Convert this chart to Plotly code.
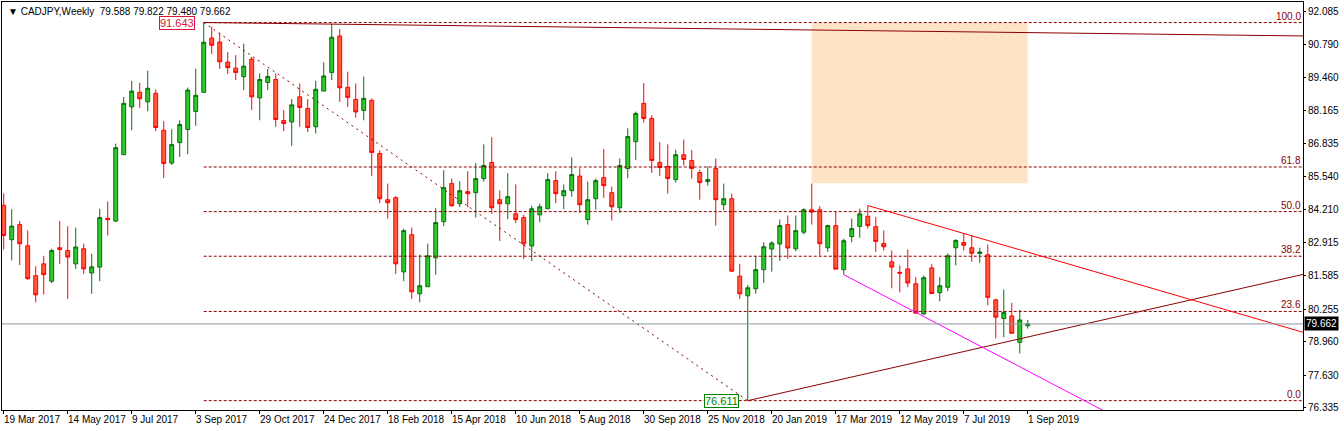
import pandas as pd
import plotly.graph_objects as go

# weekly candles, CADJPY, 19 Mar 2017 .. 1 Sep 2019
opens = [84.38, 83.01, 83.61, 82.77, 81.58, 82.05, 81.36, 82.69, 82.58, 82.05,
         82.65, 81.69, 81.92, 83.86, 83.75, 86.39, 88.29, 88.87, 88.49, 88.83,
         87.36, 86.06, 86.87, 87.39, 88.11, 88.87, 91.03, 90.87, 90.07, 89.83,
         89.49, 90.19, 88.65, 89.26, 89.38, 87.75, 87.69, 88.69, 88.23, 87.50,
         88.92, 89.66, 91.11, 89.07, 88.59, 88.15, 88.55, 86.44, 84.60, 84.68,
         81.73, 83.21, 80.86, 81.14, 82.29, 83.73, 85.24, 84.44, 84.92, 84.88,
         85.44, 86.08, 84.60, 84.44, 84.04, 83.89, 82.76, 84.00, 84.24, 85.36,
         84.76, 84.96, 85.54, 83.81, 84.64, 85.48, 84.88, 84.28, 85.84, 86.91,
         88.43, 87.83, 86.08, 85.92, 85.40, 86.39, 86.16, 85.68, 85.32, 85.84,
         84.40, 84.64, 81.56, 80.78, 81.06, 81.82, 82.64, 82.84, 83.61, 82.65,
         83.31, 84.20, 84.20, 82.69, 83.57, 81.82, 83.13, 83.54, 83.94, 83.53,
         82.86, 82.13, 81.71, 81.85, 81.26, 80.06, 81.89, 80.90, 81.12, 82.69,
         82.90, 82.69, 82.46, 82.41, 80.62, 79.88, 79.98, 78.93, 79.588]
highs = [84.85, 84.22, 83.75, 83.38, 81.95, 82.37, 82.65, 83.75, 83.54, 83.49,
         82.85, 82.45, 84.24, 84.53, 86.83, 88.69, 89.32, 89.25, 89.73, 88.98,
         87.72, 87.40, 87.76, 89.06, 89.81, 91.643, 91.48, 91.24, 90.47, 90.35,
         90.80, 90.28, 89.62, 89.80, 89.62, 88.16, 88.60, 89.22, 88.60, 89.33,
         90.06, 91.59, 91.38, 89.69, 89.22, 89.50, 88.63, 86.57, 85.24, 84.74,
         83.45, 83.49, 82.42, 82.85, 84.26, 85.77, 85.44, 85.33, 85.73, 86.05,
         86.80, 87.08, 84.97, 85.65, 85.21, 84.00, 84.36, 84.45, 85.65, 85.73,
         85.20, 86.28, 85.85, 85.32, 85.44, 86.61, 85.12, 86.24, 87.44, 88.10,
         89.24, 87.96, 86.89, 86.80, 86.59, 86.99, 86.57, 85.80, 85.92, 86.24,
         85.24, 84.84, 82.05, 81.21, 82.37, 82.91, 82.95, 83.81, 83.97, 83.97,
         84.26, 85.24, 84.34, 83.61, 84.11, 83.05, 83.85, 84.24, 84.37, 83.91,
         83.38, 82.58, 81.99, 82.62, 81.52, 81.59, 82.05, 81.52, 82.47, 83.03,
         83.25, 83.17, 82.69, 82.82, 80.66, 81.03, 80.50, 80.22, 79.822]
lows = [82.62, 82.19, 82.00, 81.42, 80.52, 80.83, 81.28, 82.05, 80.66, 81.85,
        81.65, 80.86, 81.36, 83.18, 83.71, 86.39, 87.36, 88.25, 88.12, 87.33,
        85.46, 85.98, 86.30, 86.41, 87.54, 88.87, 90.39, 89.80, 89.60, 89.36,
        88.96, 88.16, 87.76, 88.96, 87.50, 87.33, 86.74, 87.50, 87.29, 87.23,
        88.92, 89.36, 88.49, 88.29, 87.86, 87.76, 85.55, 84.47, 83.85, 81.65,
        81.36, 80.66, 80.52, 81.14, 81.62, 83.55, 84.32, 84.31, 84.30, 83.89,
        85.32, 84.04, 82.96, 83.83, 83.67, 82.25, 82.16, 83.71, 84.24, 84.47,
        84.23, 84.72, 84.08, 83.61, 84.20, 84.68, 83.77, 84.08, 85.46, 86.18,
        87.67, 85.67, 85.55, 84.84, 85.28, 85.96, 85.44, 84.60, 85.16, 83.57,
        84.18, 81.72, 80.66, 76.611, 80.86, 81.30, 81.74, 82.17, 82.25, 82.55,
        83.22, 83.61, 82.38, 82.53, 81.84, 81.62, 82.91, 83.09, 83.45, 82.52,
        82.58, 81.08, 80.92, 81.12, 80.09, 80.02, 80.87, 80.56, 80.96, 81.99,
        82.58, 82.13, 82.09, 80.40, 79.09, 79.13, 79.29, 78.49, 79.480]
closes = [83.18, 83.55, 82.85, 81.46, 80.82, 81.62, 82.58, 82.62, 82.32, 82.72,
          81.85, 81.93, 83.89, 83.81, 86.67, 88.43, 88.92, 88.61, 89.03, 87.47,
          86.04, 86.79, 87.59, 88.96, 88.75, 90.86, 90.74, 90.08, 89.85, 89.66,
          89.91, 88.69, 89.38, 89.50, 87.79, 87.63, 88.37, 88.27, 87.47, 88.99,
          89.52, 91.06, 89.05, 88.67, 88.09, 88.63, 86.48, 84.64, 84.48, 82.05,
          83.37, 80.94, 81.18, 82.37, 83.69, 85.08, 84.36, 84.96, 84.84, 85.44,
          85.96, 84.28, 84.44, 84.72, 83.81, 82.84, 84.24, 84.32, 85.40, 84.84,
          84.96, 85.60, 84.40, 84.60, 85.36, 85.16, 84.32, 85.96, 87.11, 88.03,
          87.83, 86.16, 85.88, 85.44, 86.39, 86.20, 85.84, 85.28, 85.40, 84.60,
          84.64, 81.76, 80.86, 81.10, 81.82, 82.73, 82.88, 83.57, 82.68, 83.37,
          84.20, 84.11, 82.85, 83.57, 81.84, 82.97, 83.45, 84.04, 83.57, 82.94,
          82.73, 81.92, 81.68, 81.29, 80.09, 81.50, 80.87, 81.18, 82.37, 82.98,
          82.79, 82.47, 82.52, 80.72, 79.93, 80.12, 79.29, 79.82, 79.662]
dates = pd.date_range("2017-03-19", periods=len(opens), freq="7D")

fib_high, fib_low = 91.643, 76.611
fib_ratios = [0.0, 23.6, 38.2, 50.0, 61.8, 100.0]
last_price = 79.662
y_ticks = [92.085, 90.790, 89.460, 88.165, 86.835, 85.540, 84.210, 82.915,
           81.585, 80.255, 78.960, 77.630, 76.335]

x_start = dates[0] - pd.Timedelta(days=1.5)
x_end = dates[-1] + pd.Timedelta(weeks=34.4)

# drawn objects: (x0, y0, x1, y1)
top_line = (dates[25], 91.643, x_end, 91.11)
support = (dates[93], 76.611, x_end, 81.63)
resistance = (dates[108], 84.37, x_end, 79.33)
channel = (dates[105], 81.62, dates[-1] + pd.Timedelta(weeks=9.5), 76.21)
zone = (dates[101], 85.25, dates[-1], 91.64)

DR = "#8B0000"
FONT = "Liberation Sans"
fig = go.Figure()

fig.add_shape(type="rect", x0=zone[0], x1=zone[2], y0=zone[1], y1=zone[3],
              fillcolor="#FEE3C4", line_width=0, layer="below")

for r in fib_ratios:
    lvl = fib_low + (fib_high - fib_low) * r / 100
    fig.add_shape(type="line", x0=dates[25], x1=x_end, y0=lvl, y1=lvl,
                  line=dict(color=DR, width=1, dash="3px,2px"))
    fig.add_annotation(x=1, xref="paper", y=lvl, text=f"{r:.1f}", showarrow=False,
                       xanchor="right", yanchor="bottom", yshift=-1,
                       font=dict(color=DR, size=10))

fig.add_shape(type="line", x0=dates[25], y0=fib_high, x1=dates[93], y1=fib_low,
              line=dict(color=DR, width=1, dash="2px,4px"))
for (x0, y0, x1, y1), col in [(top_line, DR), (support, DR), (resistance, "#FF0000"),
                              (channel, "#FF00FF")]:
    fig.add_shape(type="line", x0=x0, y0=y0, x1=x1, y1=y1, line=dict(color=col, width=1))

fig.add_shape(type="line", xref="paper", x0=0, x1=1, y0=last_price, y1=last_price,
              line=dict(color="#8C96A0", width=1))

fig.add_trace(go.Candlestick(
    x=dates, open=opens, high=highs, low=lows, close=closes,
    increasing=dict(line=dict(color="#0B6E0B", width=1), fillcolor="#2DC82D"),
    decreasing=dict(line=dict(color="#FF0000", width=1), fillcolor="#FF5A3C"),
    whiskerwidth=0, showlegend=False, hoverinfo="skip"))

fig.add_annotation(x=dates[25] - pd.Timedelta(days=8), y=fib_high, text="91.643",
                   showarrow=False, xanchor="right", font=dict(color="#DC143C", size=11),
                   bgcolor="white", bordercolor="#DC143C", borderwidth=1, borderpad=0)
fig.add_annotation(x=dates[93] - pd.Timedelta(days=8), y=fib_low, text="76.611",
                   showarrow=False, xanchor="right", font=dict(color="#008000", size=11),
                   bgcolor="white", bordercolor="#008000", borderwidth=1, borderpad=0)
fig.add_annotation(x=1, xref="paper", y=last_price, text="79.662", showarrow=False,
                   xanchor="left", xshift=1, font=dict(color="white", size=10),
                   bgcolor="black", borderpad=1)
fig.add_annotation(x=0, xref="paper", y=1, yref="paper", xanchor="left", yanchor="top",
                   xshift=4, yshift=-2, showarrow=False,
                   text="▼ CADJPY,Weekly  79.588 79.822 79.480 79.662",
                   font=dict(color="black", size=10))

tick_dates = dates[::8]
for d in tick_dates:
    fig.add_annotation(x=d, y=0, yref="paper", yanchor="top", xanchor="left",
                       yshift=-2, xshift=-2, showarrow=False,
                       text=f"{d.day} {d.strftime('%b %Y')}", font=dict(color="black", size=10))

fig.update_layout(
    width=1344, height=431, margin=dict(l=2, r=41, t=2, b=21),
    plot_bgcolor="white", paper_bgcolor="white",
    font=dict(family=FONT, size=10, color="black"),
    xaxis=dict(range=[x_start, x_end], rangeslider=dict(visible=False),
               tickvals=list(tick_dates), showticklabels=False, ticks="outside",
               ticklen=3, tickcolor="black", showgrid=False, zeroline=False,
               showline=True, linecolor="black", mirror=True),
    yaxis=dict(range=[76.24, 92.46], side="right", tickvals=y_ticks,
               ticktext=[f"{v:.3f}" for v in y_ticks], ticks="outside", ticklen=2,
               tickcolor="black", showgrid=False, zeroline=False,
               tickfont=dict(size=10), showline=True, linecolor="black", mirror=True),
)

fig.write_html("out.html", config={"displayModeBar": False},
               post_script="document.body.style.margin='0';")
